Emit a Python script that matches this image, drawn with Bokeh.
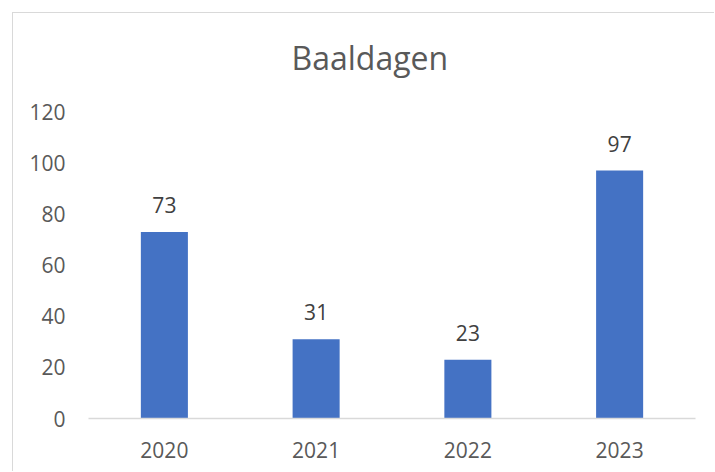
from bokeh.plotting import figure
from bokeh.models import FactorRange, Range1d, SingleIntervalTicker, ColumnDataSource
from bokeh.core.properties import value
from bokeh.embed import file_html
from bokeh.resources import INLINE

title_text = "Baaldagen"
years = ["2020", "2021", "2022", "2023"]
days = [73, 31, 23, 97]
labels = [str(v) for v in days]
y_max = 133  # axis shows ticks 0..120; headroom above holds the title band

FONT = "Open Sans"
GRAY = "#595959"

src = ColumnDataSource(dict(x=years, top=days, label=labels))

p = figure(
    x_range=FactorRange(factors=years, range_padding=0),
    y_range=Range1d(0, y_max),
    width=702, height=459,
    output_backend="svg", toolbar_location=None,
    min_border_left=75, min_border_right=20,
    min_border_top=65, min_border_bottom=54,
    margin=(12, 0, 0, 12),
    styles={"border-left": "1px solid #d9d9d9", "border-top": "1px solid #d9d9d9",
            "border-right": "none", "border-bottom": "none"},
)
p.outline_line_color = None
p.background_fill_color = "white"
p.border_fill_color = "white"

p.title.text = title_text
p.title.align = "left"
p.title.offset = 203
p.title.vertical_align = "bottom"
p.title.text_font = FONT
p.title.text_font_size = "32px"
p.title.text_font_style = "normal"
p.title.text_color = GRAY
p.title.standoff = 0

p.vbar(x="x", top="top", width=0.31, source=src, color="#4472C4", line_color=None)
p.text(x="x", y="top", text="label", source=src, text_align="center",
       text_baseline="alphabetic", y_offset=-27, text_font=value(FONT),
       text_font_size="21px", text_color="#404040")

p.xgrid.grid_line_color = None
p.ygrid.grid_line_color = None

xa = p.xaxis[0]
xa.axis_line_color = "#d9d9d9"
xa.axis_line_width = 1.5
xa.major_tick_line_color = None
xa.minor_tick_line_color = None
xa.major_label_standoff = 17
xa.major_label_text_font = FONT
xa.major_label_text_font_size = "21px"
xa.major_label_text_color = GRAY

ya = p.yaxis[0]
ya.ticker = SingleIntervalTicker(interval=20, num_minor_ticks=0)
ya.axis_line_color = None
ya.major_tick_line_color = None
ya.minor_tick_line_color = None
ya.major_tick_out = 0
ya.major_label_standoff = 23
ya.major_label_text_font = FONT
ya.major_label_text_font_size = "21px"
ya.major_label_text_color = GRAY

open("out.html", "w").write(file_html(p, INLINE))
